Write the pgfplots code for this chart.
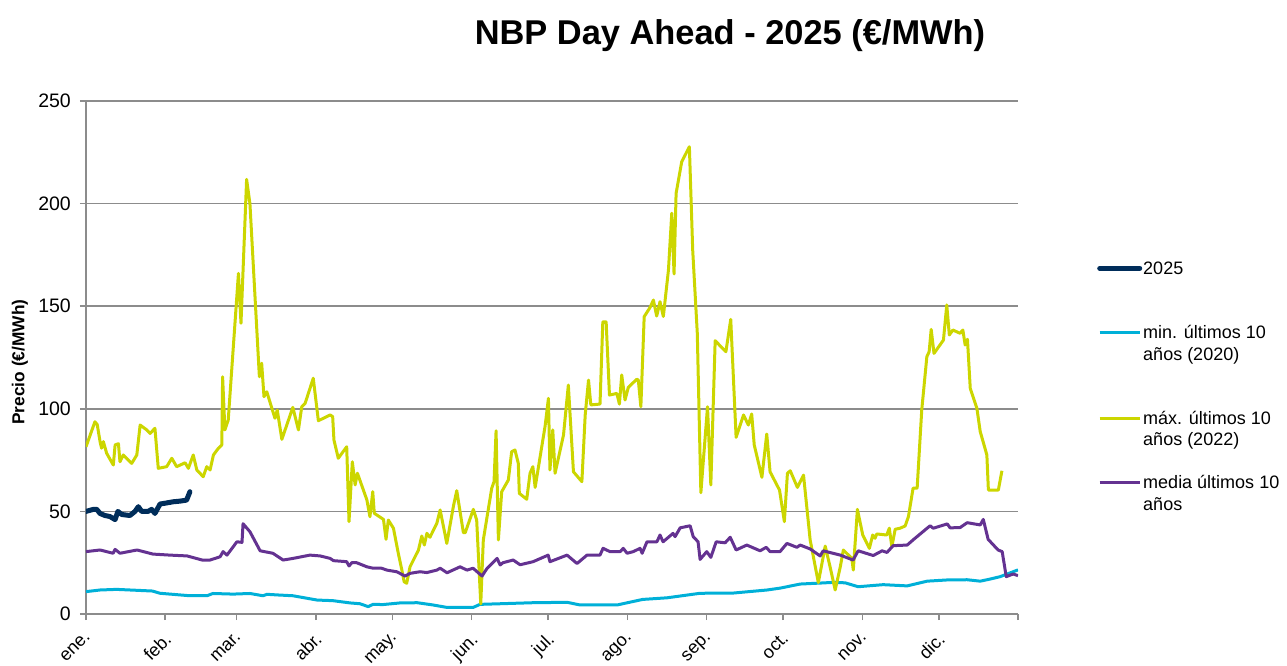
\documentclass[border=0pt]{standalone}
\usepackage{fontspec}
\setmainfont{Liberation Sans}
\usepackage{pgfplots}
\pgfplotsset{compat=1.18}
\definecolor{navy25}{RGB}{0,45,90}
\definecolor{cyanmin}{RGB}{0,176,216}
\definecolor{yelmax}{RGB}{204,214,0}
\definecolor{purmed}{RGB}{100,50,145}
\definecolor{gridg}{RGB}{140,140,140}
\begin{document}
\begin{tikzpicture}
\useasboundingbox (-86pt,-51pt) rectangle (1201pt,614pt);
\begin{axis}[
 at={(0pt,0pt)}, anchor=south west,
 scale only axis, width=932pt, height=513pt,
 xmin=0, xmax=365, ymin=0, ymax=250,
 axis x line=bottom, axis y line=left,
 axis line style={-, gridg, line width=1.5pt},
 tick style={gridg, line width=1.5pt},
 tick align=outside, major tick length=6pt,
 xtick={0,31,59,90,120,151,181,212,243,273,304,334,365},
 xticklabels={ene.,feb.,mar.,abr.,may.,jun.,jul.,ago.,sep.,oct.,nov.,dic.,},
 ytick={0,50,...,250},
 ymajorgrids, grid style={gridg, line width=1.5pt},
 /pgf/number format/assume math mode=true,
 yticklabel style={font=\fontsize{19.5}{23}\selectfont, anchor=east, inner sep=0pt, xshift=-9pt},
 xticklabel style={font=\fontsize{18}{21}\selectfont, xshift=-2pt, yshift=-11pt, rotate=45, anchor=north east, inner sep=0pt},
 ylabel={Precio (€/MWh)},
 every axis y label/.style={at={(axis description cs:-0.071,0.491)}, rotate=90, anchor=center, font=\bfseries\fontsize{17.3}{20}\selectfont},
 title={NBP Day Ahead - 2025 (€/MWh)},
 title style={at={(axis description cs:0.691,1.115)}, anchor=center, font=\bfseries\fontsize{34.4}{40}\selectfont},
 legend style={draw=none, fill=none, at={(1.0848,0.6953)}, anchor=north west, inner sep=0pt, row sep=0pt, column sep=0pt, font=\fontsize{18}{21.6}\selectfont, nodes={inner xsep=1pt, inner ysep=0pt, text height=17.1pt, text depth=4.3pt}},
 legend cell align=left,
 legend image code/.code={\draw[#1] (0pt,0pt) -- (40pt,0pt);},
]
\addplot[navy25, line width=5pt, line join=round, line cap=round] coordinates {
(0,50)(2.9,51)(4.2,51)(5.5,49)(7.4,48)(9.4,47.5)(11.4,46)(12.5,50)(14,48.5)(17.2,48)(19.2,50)(20.5,52.3)(21.8,50)(24.3,50)(25.7,51)(27,49)(29,53.6)(31,54)(34.2,54.7)(36.8,55)(39.4,55.5)(40.7,59.6)
};
\addlegendentry{2025}
\addlegendimage{empty legend}\addlegendentry{\mbox{}}
\addlegendimage{empty legend}\addlegendentry{\mbox{}}
\addplot[cyanmin, line width=3pt, line join=round] coordinates {
(0,10.9)(5.5,11.7)(12,12)(26,11.2)(29,10.1)(40.7,8.9)(47.4,8.9)(49.7,10)(57.6,9.7)(64.2,10)(69.3,8.9)(70.9,9.6)(74.8,9.3)(81,8.9)(90.5,6.8)(96.7,6.5)(103.4,5.4)(107.3,5)(110.5,3.6)(112.4,4.7)(116.3,4.6)(123,5.4)(129.7,5.5)(135.9,4.4)(141.4,3.2)(151.6,3.2)(154.3,4.7)(162.2,5)(175,5.5)(188.4,5.7)(193.5,4.4)(208,4.4)(218,7.1)(227.6,7.9)(240.5,10.1)(253.4,10.2)(266.7,11.7)(271.8,12.6)(279.7,14.6)(286.3,15)(292.6,15.4)(297.3,15.2)(302.4,13.3)(312.2,14.3)(321.6,13.7)(329.4,16)(337.3,16.6)(345.1,16.7)(350.2,16)(354,17)(358,18.2)(365,21.5)
};
\addlegendentry{min. últimos 10}
\addlegendimage{empty legend}\addlegendentry{años (2020)}
\addlegendimage{empty legend}\addlegendentry{\mbox{}}
\addlegendimage{empty legend}\addlegendentry{\mbox{}}
\addplot[yelmax, line width=3pt, line join=round] coordinates {
(0,81.5)(3.5,93.7)(4.4,92.3)(5.5,84)(6.1,80.8)(6.8,84)(8.1,78.3)(10.7,72.6)(11.4,82.4)(12.7,83)(13.3,74.2)(14.6,77.5)(17.9,73.4)(19.9,77.5)(21.2,92.1)(23.8,89.7)(25.1,88)(27,90.5)(28.3,71)(31.6,71.8)(33.6,75.9)(35.5,71.8)(38.8,73.7)(40.1,71)(42,77.5)(43.4,70.2)(45.9,66.9)(47.3,71.8)(48.6,70.2)(49.9,77.5)(51.8,80.7)(53.2,82.4)(53.5,115.6)(54.4,89.7)(55.7,94.5)(59.7,166)(60.7,141.7)(62.9,211.8)(64.2,200)(67.9,115.6)(68.8,122.2)(69.7,105.9)(70.8,108.3)(74,95.4)(74.9,99.4)(76.7,85.1)(81,100.7)(83.2,89.7)(84.5,101)(85.8,102.6)(89,114.9)(91,94.2)(93,95.4)(95.6,97)(96.6,96.2)(97.1,84.8)(98.8,75.9)(102.1,81.5)(103,45)(104.3,74.2)(105.4,62.9)(106.3,68.6)(110,55.6)(111.2,47.4)(112.3,59.6)(112.9,49.1)(116.5,46.1)(117.5,36.4)(118.4,45.8)(120.4,41.8)(122.3,29.6)(123.7,21.4)(124.6,15.7)(125.6,15)(126.9,23)(130.2,31.2)(131.5,38)(132.5,33.6)(133.5,39.3)(134.7,37.4)(137.4,44.2)(138.7,50.7)(141.3,34.4)(143.9,52.6)(145.2,60.1)(147.8,39.6)(148.5,39.6)(151.7,51)(153,45.8)(154.6,4.9)(155.6,36.1)(158.9,61.3)(159.8,64.5)(160.6,89.3)(161.5,36.1)(162.8,59.6)(165.4,65.3)(166.7,79.1)(168,79.9)(169.3,73.4)(169.7,58.8)(172.6,55.9)(173.9,68.6)(175,71.8)(175.9,61.7)(179.8,91.6)(181.1,105.1)(181.7,70.2)(182.8,89.7)(183.7,68.6)(187,87.2)(188.9,111.6)(190.9,69.3)(194.2,64.5)(195.5,97)(196.8,114)(197.7,101.9)(201.3,102.3)(202.4,142.4)(203.7,142.4)(205,106.7)(207.9,107.5)(208.9,102.3)(209.8,116.5)(211.1,104.3)(212.4,110.5)(215.7,114.4)(216.3,114)(217.3,101)(218.6,144.9)(220.9,149.4)(222.2,153)(223.5,145.2)(224.8,152.2)(226.1,145)(228.1,167.6)(229.4,195.3)(230.3,165.7)(231.1,205)(233.3,220.4)(236.3,227.7)(237.6,177.4)(239.4,136.8)(240.8,59.1)(243.4,101)(244.7,62.9)(246.4,133.2)(250.6,127.8)(252.5,143.6)(254.6,86.1)(257.5,97)(259.4,92.1)(260.7,97.5)(261.7,82.4)(264.7,66.6)(266.6,87.7)(267.9,69.3)(271.6,60.4)(273.5,45)(274.7,68.6)(275.8,69.8)(278.6,61.7)(281,67.7)(283.6,36.1)(286.8,15.3)(289.5,33.1)(291.4,23)(293.4,11.7)(295.4,23)(296.6,31.2)(299.9,27.1)(300.5,21.4)(302.1,51)(304.2,38.5)(306.8,32)(308.1,38.5)(309,36.9)(309.7,39)(313.6,38.5)(314.6,41.8)(315.6,32.8)(316.9,41.3)(318.8,41.8)(320.8,42.9)(322.1,47.5)(323.9,61.3)(325.5,61.3)(327.3,99.4)(329.3,125.4)(330.2,127.8)(331,138.7)(332.1,127)(335.8,133.5)(337.1,150.6)(338.1,136)(339.5,138.4)(342.3,136.8)(343.4,138.4)(344.3,131.1)(345.2,133.9)(346.3,110)(348.9,100.2)(350.2,88.9)(351.9,81.5)(352.8,77.5)(353.4,60.4)(357.3,60.4)(358.7,69.8)
};
\addlegendentry{máx. últimos 10}
\addlegendimage{empty legend}\addlegendentry{años (2022)}
\addlegendimage{empty legend}\addlegendentry{\mbox{}}
\addplot[purmed, line width=3pt, line join=round] coordinates {
(0,30.4)(5.5,31.2)(10.6,29.6)(11.4,31.5)(13.3,29.6)(20,31.2)(26.2,29.2)(32.9,28.7)(39.6,28.3)(45.8,26.2)(48.6,26.3)(52.5,27.9)(53.7,30.4)(55.2,28.7)(59.1,35.2)(61.1,34.9)(61.5,44)(64.2,40.1)(68.2,30.8)(73.2,29.6)(77.2,26.3)(81.1,27.1)(87.7,28.7)(91.7,28.3)(95.6,27.1)(96.9,26)(102.1,25.5)(103,23.4)(104.1,25)(106,25)(110,23)(112.5,22.3)(115.8,22.3)(117.8,21.4)(121.7,20.6)(124.9,18.5)(126.9,19.8)(130.8,20.6)(133.5,20.2)(137.4,21.4)(138.7,22.3)(141.4,20.1)(146.5,23)(149.2,21.4)(151.6,22.3)(155.1,18.5)(157.1,22.3)(161,27.1)(162.2,23.9)(163.3,25)(167.3,26.3)(170,24)(175.1,25.5)(181,28.7)(181.7,25.5)(188.4,28.7)(192.3,24.6)(196.2,28.7)(201.3,28.7)(202.5,32)(205.2,30.4)(209.2,30.4)(210.4,32)(211.9,29.6)(214.3,30.4)(217,32)(217.8,29.6)(219.7,35.2)(223.6,35.2)(224.8,38.5)(226,35.2)(229.9,39.3)(230.7,37.7)(232.7,42)(236.6,43)(237.8,37.7)(239.7,35.2)(240.5,26.6)(243.1,30.4)(244.7,27.6)(246.8,35.2)(250.3,34.7)(252.3,37.4)(254.6,31.2)(258.8,33.6)(264,30.8)(266.4,32.5)(267.9,30.4)(271.8,30.4)(274.5,34.4)(278.4,32.5)(279.7,33.6)(283.6,31.7)(287.5,28.3)(288.7,30.8)(295.4,28.7)(300.4,26.3)(302.4,30.8)(308.3,28.5)(311.8,30.8)(313.7,30)(316.1,33.3)(321.6,33.6)(323.9,36.1)(329.4,41.8)(330.6,43)(331.8,41.8)(337.3,43.9)(338.4,42)(342.3,42.1)(345.1,44.5)(350.2,43.4)(351.4,46.1)(353.3,36.4)(357.2,31.2)(358.8,30.4)(360.4,18.2)(363.1,19.5)(365,18.7)
};
\addlegendentry{media últimos 10}
\addlegendimage{empty legend}\addlegendentry{años}
\end{axis}
\end{tikzpicture}
\end{document}
